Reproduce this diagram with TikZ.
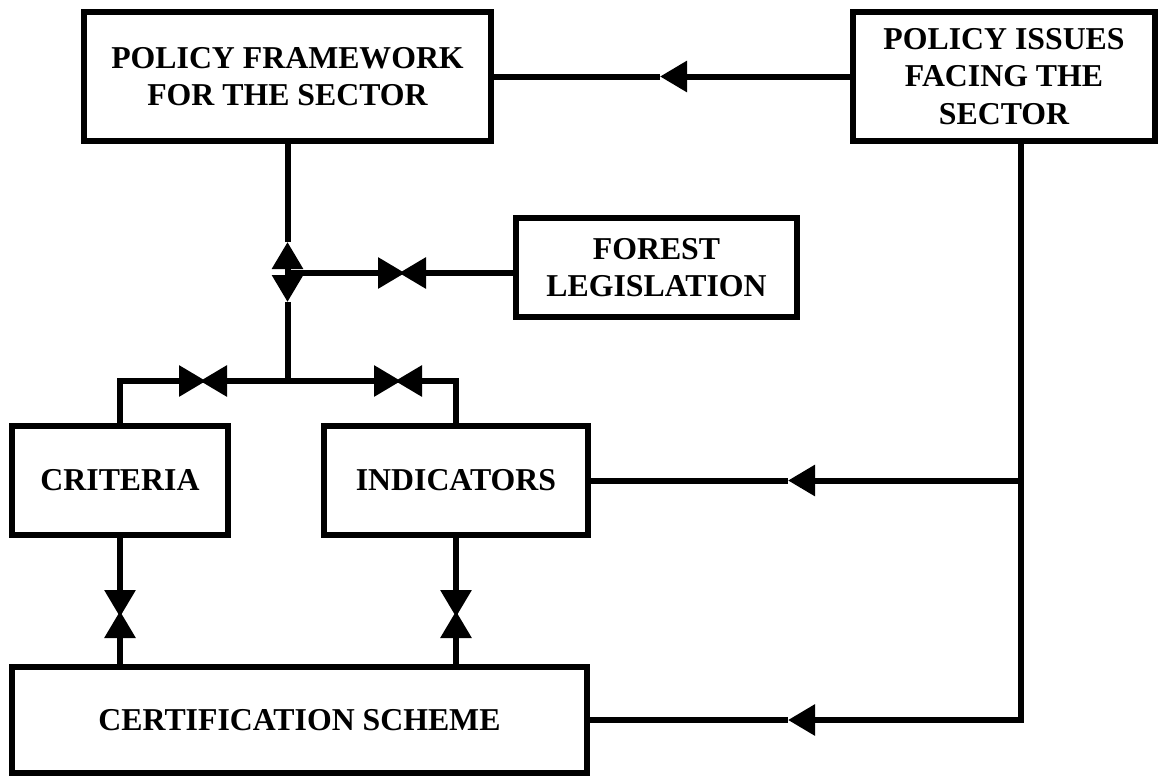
\documentclass[tikz,border=0pt]{standalone}
\usepackage{fontspec}
\setmainfont{Liberation Serif}
\usetikzlibrary{arrows.meta}
\def \LineW {6pt}
\def \Overlap {3pt}
\tikzstyle{block}=[
  draw=black,
  line width=\LineW,
  rectangle,
  inner sep=0pt,
  align=center,
  font=\bfseries\fontsize{31.8}{37.5}\selectfont
]
\tikzstyle{link}=[line width=\LineW]
\tikzstyle{headed}=[link, -{Triangle[length=27pt,width=30pt]}]

\begin{document}
\begin{tikzpicture}[x=1pt,y=-1pt]
          \useasboundingbox (0,0) rectangle (1158,776);

          \def \TrunkX {287.5}
          \def \RightX {1021}
          \def \LawY {273}
          \def \SplitY {381}
          \def \BowY {614}
          \def \InTipX {788}

          \node[block, minimum width=407pt, minimum height=129pt] (frame) at (287.5,76.5) {POLICY FRAMEWORK\\FOR THE SECTOR};
          \node[block, minimum width=302pt, minimum height=129pt] (issues) at (1004,76.5) {POLICY ISSUES\\FACING THE\\SECTOR};
          \node[block, minimum width=281pt, minimum height=99pt] (law) at (656.5,267.5) {FOREST\\LEGISLATION};
          \node[block, minimum width=216pt, minimum height=109pt] (crit) at (120,480.5) {CRITERIA};
          \node[block, minimum width=264pt, minimum height=109pt] (ind) at (456,480.5) {INDICATORS};
          \node[block, minimum width=575pt, minimum height=106pt] (cert) at (299.5,720) {CERTIFICATION SCHEME};

          \coordinate (jLaw) at (\TrunkX, \LawY);
          \coordinate (jSplit) at (\TrunkX, \SplitY);
          \coordinate (upTip) at (\TrunkX, 242);
          \coordinate (dnTip) at (\TrunkX, 302);
          \coordinate (lawBow) at (402, \LawY);
          \coordinate (critTip) at (203, \SplitY);
          \coordinate (indTip) at (398, \SplitY);
          \coordinate (topTip) at (660, 76.5);
          \coordinate (rTop) at (\RightX, 141);
          \coordinate (indIn) at (\InTipX, 480.5);
          \coordinate (certIn) at (\InTipX, 720);
          \coordinate (critBow) at (120, \BowY);
          \coordinate (indBow) at (456, \BowY);

          % issues feed the framework
          \draw[headed] (issues.west) -- (topTip);
          \draw[link] (topTip) -- (frame.east);

          % trunk below the framework
          \draw[headed] (jLaw) -- (upTip);
          \draw[link] (upTip) -- (frame.south);
          \draw[headed] (jLaw) -- (dnTip);
          \draw[link] (dnTip) -- (jSplit);
          \draw[headed] (jLaw) -- ([xshift=\Overlap]lawBow);
          \draw[headed] (jLaw -| law.west) -- ([xshift=-\Overlap]lawBow);

          \draw[headed] (jSplit) -- ([xshift=-\Overlap]critTip);
          \draw[headed] (crit.north) |- ([xshift=\Overlap]critTip);
          \draw[headed] (jSplit) -- ([xshift=\Overlap]indTip);
          \draw[headed] (ind.north) |- ([xshift=-\Overlap]indTip);

          \draw[headed] (crit.south) -- ([yshift=-\Overlap]critBow);
          \draw[headed] (crit.south |- cert.north) -- ([yshift=\Overlap]critBow);
          \draw[headed] (ind.south) -- ([yshift=-\Overlap]indBow);
          \draw[headed] (ind.south |- cert.north) -- ([yshift=\Overlap]indBow);

          % right hand feed
          \draw[headed] (rTop) |- (certIn);
          \draw[link] (certIn) -- (cert.east);
          \draw[headed] (rTop |- ind.east) -- (indIn);
          \draw[link] (indIn) -- (ind.east);
        \end{tikzpicture}
\end{document}
